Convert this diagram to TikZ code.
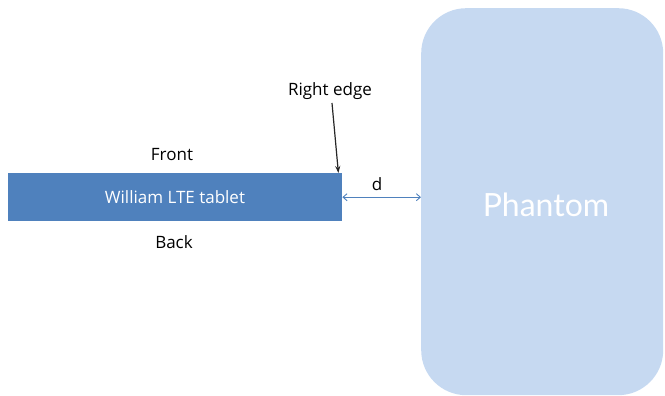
\documentclass[tikz,border=0pt]{standalone}
\usepackage{fontspec}
\setmainfont{Open Sans}
\newfontfamily\phfont{Lato}
\usetikzlibrary{arrows.meta}
\definecolor{tabblue}{HTML}{4F81BD}
\definecolor{phblue}{HTML}{C6D9F1}
\definecolor{arrgray}{HTML}{262626}
\begin{document}
\begin{tikzpicture}[x=1pt,y=-1pt,
  lbl/.style={font=\fontsize{17}{20}\selectfont, text=black, inner sep=0pt},
  darr/.style={draw=tabblue, line width=0.9pt, {Straight Barb[length=4pt,width=7pt]}-{Straight Barb[length=4pt,width=7pt]}}]
\useasboundingbox (0,0) rectangle (665,396);
\node[draw=none, fill=phblue, rounded corners=45pt, minimum width=242pt, minimum height=387pt, inner sep=0pt, anchor=north west] (ph) at (421,8) {};
\node[text=white, font=\phfont\fontsize{32}{36}\selectfont] at (546,205) {Phantom};
\node[fill=tabblue, minimum width=334pt, minimum height=48pt, inner sep=0pt, anchor=north west] (tab) at (8,173) {};
\node[text=white, font=\fontsize{17}{20}\selectfont] at (175,197) {William LTE tablet};
\node[lbl] (front) at (172,155) {Front};
\node[lbl] (back) at (174,242) {Back};
\node[lbl] (re) at (330,91) {Right edge};
\node[lbl] (d) at (377,184) {d};
\coordinate (rs) at (332,103);
\draw[draw=arrgray, line width=1.2pt, -{Stealth[length=7pt,width=5pt]}] (rs) -- ([xshift=-4pt]tab.north east);
\draw[darr] (tab.east) -- (ph.west |- tab.east);
\end{tikzpicture}
\end{document}
